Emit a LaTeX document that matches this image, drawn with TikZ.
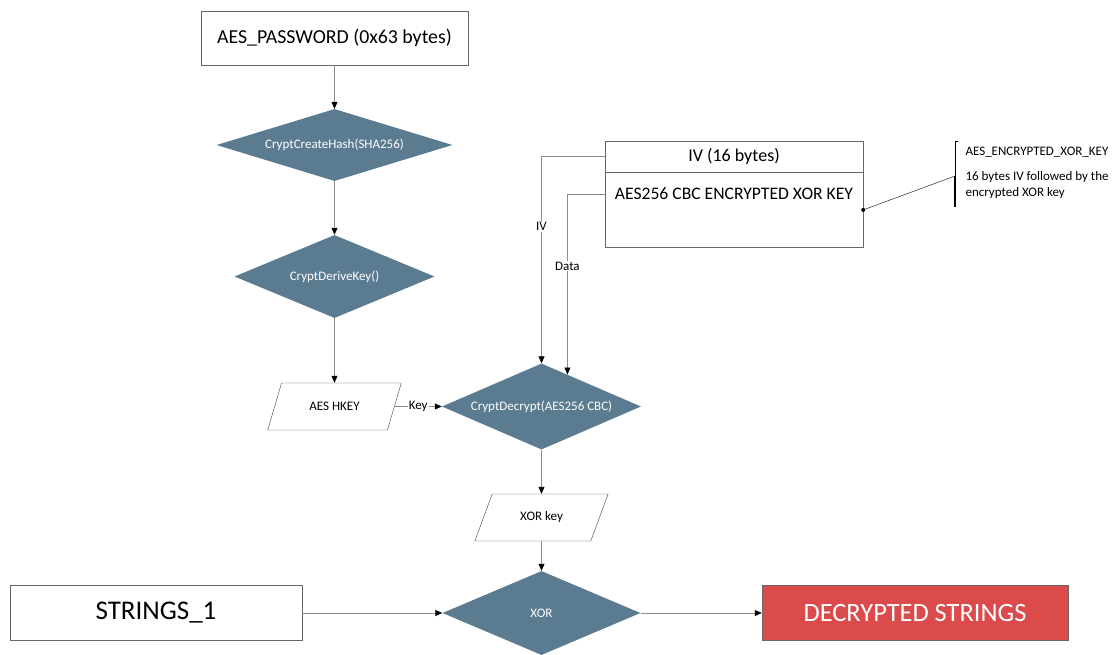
\documentclass[tikz,border=0pt]{standalone}
\usepackage{fontspec}
\setmainfont{Carlito}
\usetikzlibrary{shapes.geometric,arrows.meta,calc}
\definecolor{slate}{HTML}{5B7B90}
\definecolor{alert}{HTML}{DB4B4B}
\definecolor{wire}{HTML}{8C8C8C}
\begin{document}
\begin{tikzpicture}[x=1pt,y=-1pt,line join=round,
  >={Triangle[length=7pt,width=6pt,color=black]},
  box/.style={draw=black!60,rectangle,inner sep=0},
  op/.style={diamond,fill=slate,text=white,inner sep=0,font=\fontsize{13}{15}\selectfont},
  io/.style={trapezium,trapezium left angle=64,trapezium right angle=116,trapezium stretches=true,
    draw=black!75,minimum width=134,minimum height=47,font=\fontsize{13}{15}\selectfont},
  flow/.style={draw=wire,line width=0.6pt,->},
  tag/.style={fill=white,inner sep=1pt,font=\fontsize{13}{15}\selectfont}]
\useasboundingbox (0,0) rectangle (1114,654);
% left column
\node[box,minimum width=267,minimum height=54,font=\fontsize{19.8}{23}\selectfont] (pwd) at (334.5,38) {AES\_PASSWORD (0x63 bytes)};
\node[op,aspect=3.28,minimum width=236,minimum height=72] (hash) at (334.5,145) {CryptCreateHash(SHA256)};
\node[op,aspect=2.4,minimum width=200,minimum height=83] (derive) at (334.5,276.5) {CryptDeriveKey()};
\node[io] (hkey) at (334.5,406.5) {AES HKEY};
% middle column
\node[op,aspect=2.3,minimum width=199,minimum height=86] (decrypt) at (541.5,406.5) {CryptDecrypt(AES256 CBC)};
\node[io] (xorkey) at (541.5,517.5) {XOR key};
\node[op,aspect=2.4,minimum width=198,minimum height=84] (xor) at (541.5,613) {XOR};
% bottom row
\node[box,minimum width=292,minimum height=55,font=\fontsize{27}{31}\selectfont] (strings) at (156,613) {STRINGS\_1};
\node[box,fill=alert,text=white,minimum width=306,minimum height=55,font=\fontsize{26.4}{30}\selectfont] (plain) at (915,613) {DECRYPTED STRINGS};
% encrypted key blob
\node[box,minimum width=258,minimum height=31,font=\fontsize{18}{22}\selectfont] (ivhead) at (734,156.5) {IV (16 bytes)};
\node[box,minimum width=258,minimum height=75,anchor=north] (ivbody) at (ivhead.south) {};
\node[font=\fontsize{17.6}{20}\selectfont] (enckey) at (734,194) {AES256 CBC ENCRYPTED XOR KEY};
% flow
\draw[flow] (pwd) -- (hash);
\draw[flow] (hash) -- (derive);
\draw[flow] (derive) -- (hkey);
\draw[flow] (hkey) -- node[tag]{Key} (decrypt);
\draw[flow] (ivhead.west) -| node[tag,pos=0.67]{IV} (decrypt.north);
\coordinate (datain) at (ivbody.west |- enckey);
\draw[flow] (datain) -| node[tag,pos=0.7]{Data} ($(decrypt.north)!0.26!(decrypt.east)$);
\draw[flow] (decrypt) -- (xorkey);
\draw[flow] (xorkey) -- (xor);
\draw[flow] (strings) -- (xor);
\draw[flow] (xor) -- (plain);
% note
\coordinate (pin) at (ivbody.east);
\coordinate (brtop) at (955,141);
\coordinate (brmid) at (955,176);
\coordinate (brend) at (955,207);
\fill (pin) circle (2pt);
\draw (pin) -- (brmid);
\draw ($(brtop)+(3,0)$) -- (brtop) -- (brmid);
\draw[line width=1.6pt] (brmid) -- (brend);
\node[anchor=west,font=\fontsize{13}{15}\selectfont] (notehead) at (962,152) {AES\_ENCRYPTED\_XOR\_KEY};
\node[anchor=north west,align=left,font=\fontsize{13}{16}\selectfont] (notebody) at (962,168) {16 bytes IV followed by the\\encrypted XOR key};
\end{tikzpicture}
\end{document}
